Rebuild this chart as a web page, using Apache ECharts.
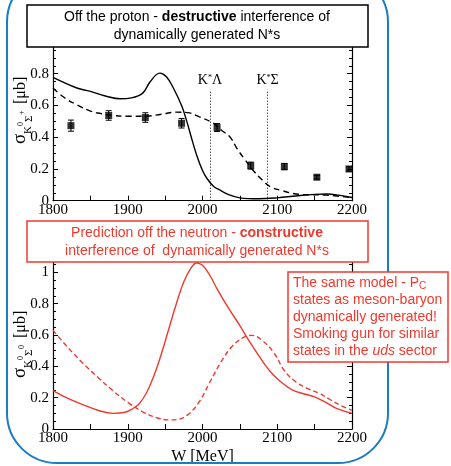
<!DOCTYPE html>
<html>
<head>
<meta charset="utf-8">
<script src="https://cdn.jsdelivr.net/npm/echarts@6/dist/echarts.min.js"></script>
<style>
  html, body { margin: 0; padding: 0; background: #fff; }
  #chart { width: 451px; height: 466px; }
</style>
</head>
<body>
<div id="chart"></div>
<script>
// top panel: K0 Sigma+ off the proton
let protonSolidW = [1800, 1832, 1849, 1870, 1890, 1905, 1920, 1930, 1943, 1952, 1961, 1972, 1979, 1985, 1992, 2000, 2006, 2015, 2023, 2035, 2050, 2075, 2100, 2125, 2150, 2166, 2182, 2200];
let protonSolid = [0.777, 0.71, 0.69, 0.66, 0.642, 0.648, 0.678, 0.75, 0.804, 0.78, 0.71, 0.60, 0.50, 0.40, 0.29, 0.19, 0.14, 0.09, 0.068, 0.038, 0.018, 0.012, 0.018, 0.03, 0.04, 0.042, 0.035, 0.02];
let protonDashW = [1800, 1815, 1832, 1850, 1863, 1880, 1900, 1923, 1945, 1965, 1980, 1995, 2014, 2025, 2037, 2046, 2055, 2068, 2080, 2090, 2105, 2130, 2165, 2200];
let protonDash = [0.71, 0.65, 0.604, 0.565, 0.55, 0.537, 0.532, 0.532, 0.545, 0.558, 0.555, 0.53, 0.49, 0.445, 0.40, 0.33, 0.27, 0.19, 0.13, 0.09, 0.065, 0.04, 0.035, 0.02];
let dataW = [1824, 1874.5, 1923.5, 1972, 2019.5, 2064.5, 2109.5, 2153, 2196];
let dataVal = [0.473, 0.537, 0.524, 0.488, 0.461, 0.221, 0.215, 0.148, 0.2];
let dataErr = [0.035, 0.03, 0.03, 0.03, 0.025, 0.022, 0.02, 0.012, 0.014];
let thresholdW = [2010, 2087];
let thresholdNames = ['{k|K}{s|*}{k|Λ}', '{k|K}{s|*}{k|Σ}'];

// bottom panel: K0 Sigma0 off the neutron (prediction)
let neutronSolidW = [1800, 1820, 1840, 1860, 1880, 1895, 1905, 1915, 1925, 1935, 1945, 1955, 1965, 1975, 1985, 1992, 2000, 2010, 2020, 2035, 2050, 2060, 2075, 2090, 2105, 2120, 2135, 2150, 2165, 2180, 2200];
let neutronSolid = [0.245, 0.195, 0.155, 0.12, 0.10, 0.105, 0.125, 0.16, 0.23, 0.34, 0.48, 0.64, 0.80, 0.94, 1.03, 1.06, 1.045, 0.98, 0.89, 0.77, 0.66, 0.58, 0.47, 0.37, 0.30, 0.25, 0.225, 0.205, 0.17, 0.13, 0.10];
let neutronDashW = [1800, 1820, 1840, 1860, 1880, 1900, 1920, 1940, 1955, 1965, 1980, 1995, 2010, 2025, 2040, 2055, 2066, 2080, 2095, 2110, 2125, 2140, 2155, 2170, 2185, 2200];
let neutronDash = [0.63, 0.52, 0.42, 0.33, 0.245, 0.17, 0.11, 0.07, 0.058, 0.06, 0.09, 0.17, 0.30, 0.43, 0.53, 0.585, 0.598, 0.565, 0.49, 0.37, 0.30, 0.26, 0.23, 0.19, 0.15, 0.12];

let xTicks = [1800, 2200, 100];
let yTicks = [0, 0.2];

const RED = '#ee3a2e';
const BLUE = '#1b7cc6';
const SERIF = 'Liberation Serif';
const SANS = 'Liberation Sans';

function pairs(xs, ys) {
  return xs.map((x, i) => [x, ys[i]]);
}

function xAxisFor(grid, pos, showLabel) {
  return {
    gridIndex: grid, type: 'value', position: pos,
    min: xTicks[0], max: xTicks[1], interval: xTicks[2],
    axisLine: { show: true, onZero: false, lineStyle: { color: '#000', width: 1.2 } },
    axisTick: { show: true, inside: true, length: 5, lineStyle: { color: '#000' } },
    minorTick: { show: true, splitNumber: 2, length: 5, lineStyle: { color: '#000' } },
    axisLabel: {
      show: showLabel, color: '#000', fontFamily: SERIF, fontSize: 15, margin: 2,
      formatter: v => String(v)
    },
    splitLine: { show: false }
  };
}

function yAxisFor(grid, pos, showLabel, max) {
  return {
    gridIndex: grid, type: 'value', position: pos,
    min: yTicks[0], max: max, interval: yTicks[1],
    axisLine: { show: true, onZero: false, lineStyle: { color: '#000', width: 1.2 } },
    axisTick: { show: true, inside: true, length: 5, lineStyle: { color: '#000' } },
    minorTick: { show: true, splitNumber: 4, length: 3, lineStyle: { color: '#000' } },
    axisLabel: {
      show: showLabel, color: '#000', fontFamily: SERIF, fontSize: 15, margin: 4,
      showMaxLabel: false,
      formatter: v => String(Math.round(v * 10) / 10)
    },
    splitLine: { show: false }
  };
}

// sigma_{K^0 Sigma^x} [mub], drawn rotated
function sigmaName(cy, supLast) {
  let t = (text, x, y, size) => ({
    type: 'text', x: x, y: y,
    style: { text: text, font: size + 'px "' + SERIF + '"', fill: '#000', align: 'left', verticalAlign: 'middle' }
  });
  return {
    type: 'group', x: 21, y: cy, rotation: Math.PI / 2, z: 50,
    children: [
      t('σ', -36, -1, 19),
      t('K', -26, 7, 11),
      t('0', -18, 0, 8),
      t('Σ', -14, 8, 11),
      t(supLast, -7, 1, 8),
      t('[μb]', 4, 0, 16)
    ]
  };
}

function errorBars(params, api) {
  let x = api.value(0), y = api.value(1), e = api.value(2);
  let hi = api.coord([x, y + e]);
  let lo = api.coord([x, y - e]);
  let st = { stroke: '#000', lineWidth: 1 };
  return {
    type: 'group',
    children: [
      { type: 'line', shape: { x1: hi[0], y1: hi[1], x2: lo[0], y2: lo[1] }, style: st },
      { type: 'line', shape: { x1: hi[0] - 3, y1: hi[1], x2: hi[0] + 3, y2: hi[1] }, style: st },
      { type: 'line', shape: { x1: lo[0] - 3, y1: lo[1], x2: lo[0] + 3, y2: lo[1] }, style: st }
    ]
  };
}

let chart = echarts.init(document.getElementById('chart'));
chart.setOption({
  animation: false,
  backgroundColor: '#fff',
  grid: [
    { left: 53, width: 299, top: 42, height: 158.7 },
    { left: 53, width: 299, top: 256.7, height: 176 }
  ],
  xAxis: [
    xAxisFor(0, 'bottom', true), xAxisFor(0, 'top', false),
    Object.assign(xAxisFor(1, 'bottom', true), {
      name: 'W [MeV]', nameLocation: 'middle', nameGap: 20,
      nameTextStyle: { color: '#000', fontFamily: SERIF, fontSize: 16 }
    }),
    xAxisFor(1, 'top', false)
  ],
  yAxis: [
    yAxisFor(0, 'left', true, 1), yAxisFor(0, 'right', false, 1),
    yAxisFor(1, 'left', true, 1.1), yAxisFor(1, 'right', false, 1.1)
  ],
  series: [
    {
      type: 'line', xAxisIndex: 0, yAxisIndex: 0, data: pairs(protonSolidW, protonSolid),
      smooth: 0.4, showSymbol: false, lineStyle: { color: '#000', width: 1.4 },
      markLine: {
        silent: true, symbol: 'none',
        lineStyle: { color: '#000', type: [1, 2], width: 1 },
        label: {
          show: true, position: 'end', distance: 2, color: '#000',
          rich: {
            k: { fontFamily: SERIF, fontSize: 14, color: '#000' },
            s: { fontFamily: SERIF, fontSize: 8, color: '#000', verticalAlign: 'top' }
          }
        },
        data: thresholdW.map((w, i) => [
          { coord: [w, 0], label: { formatter: thresholdNames[i] } },
          { coord: [w, 0.7] }
        ])
      }
    },
    {
      type: 'line', xAxisIndex: 0, yAxisIndex: 0, data: pairs(protonDashW, protonDash),
      smooth: 0.4, showSymbol: false, lineStyle: { color: '#000', width: 1.4, type: [6, 4] }
    },
    {
      type: 'custom', xAxisIndex: 0, yAxisIndex: 0, renderItem: errorBars,
      data: dataW.map((w, i) => [w, dataVal[i], dataErr[i]])
    },
    {
      type: 'scatter', xAxisIndex: 0, yAxisIndex: 0, data: pairs(dataW, dataVal),
      symbol: 'rect', symbolSize: 7, itemStyle: { color: '#000' }
    },
    {
      type: 'line', xAxisIndex: 2, yAxisIndex: 2, data: pairs(neutronSolidW, neutronSolid),
      smooth: 0.4, showSymbol: false, lineStyle: { color: RED, width: 1.4 }
    },
    {
      type: 'line', xAxisIndex: 2, yAxisIndex: 2, data: pairs(neutronDashW, neutronDash),
      smooth: 0.4, showSymbol: false, lineStyle: { color: RED, width: 1.4, type: [5, 3] }
    }
  ],
  graphic: [
    {
      type: 'rect', z: 60, shape: { x: 7, y: -28, width: 381, height: 491, r: 50 },
      style: { fill: 'none', stroke: BLUE, lineWidth: 2 }
    },
    sigmaName(108, '+'),
    sigmaName(342, '0'),
    {
      type: 'rect', z: 100, shape: { x: 27, y: 5, width: 341, height: 42 },
      style: { fill: '#fff', stroke: '#000', lineWidth: 1.5 }
    },
    {
      type: 'text', z: 101, x: 197, y: 26,
      style: {
        text: '{n|Off the proton - }{b|destructive}{n| interference of}\n{n|dynamically generated N*s}',
        align: 'center', verticalAlign: 'middle',
        rich: {
          n: { fontFamily: SANS, fontSize: 14, lineHeight: 18, fill: '#000' },
          b: { fontFamily: SANS, fontSize: 14, lineHeight: 18, fontWeight: 'bold', fill: '#000' }
        }
      }
    },
    {
      type: 'rect', z: 100, shape: { x: 27, y: 221, width: 341, height: 41 },
      style: { fill: '#fff', stroke: RED, lineWidth: 1.5 }
    },
    {
      type: 'text', z: 101, x: 197, y: 242,
      style: {
        text: '{n|Prediction off the neutron - }{b|constructive}\n{n|interference of  dynamically generated N*s}',
        align: 'center', verticalAlign: 'middle',
        rich: {
          n: { fontFamily: SANS, fontSize: 14, lineHeight: 18, fill: RED },
          b: { fontFamily: SANS, fontSize: 14, lineHeight: 18, fontWeight: 'bold', fill: RED }
        }
      }
    },
    {
      type: 'rect', z: 100, shape: { x: 288, y: 272, width: 160, height: 90 },
      style: { fill: '#fff', stroke: RED, lineWidth: 1.5 }
    },
    {
      type: 'text', z: 101, x: 293, y: 317,
      style: {
        text: '{n|The same model - P}{c|C}\n{n|states as meson-baryon}\n{n|dynamically generated!}\n{n|Smoking gun for similar}\n{n|states in the }{i|uds}{n| sector}',
        align: 'left', verticalAlign: 'middle',
        rich: {
          n: { fontFamily: SANS, fontSize: 14, lineHeight: 17, fill: RED },
          c: { fontFamily: SANS, fontSize: 10, lineHeight: 17, fill: RED, verticalAlign: 'bottom' },
          i: { fontFamily: SANS, fontSize: 14, lineHeight: 17, fontStyle: 'italic', fill: RED }
        }
      }
    }
  ]
});
</script>
</body>
</html>
